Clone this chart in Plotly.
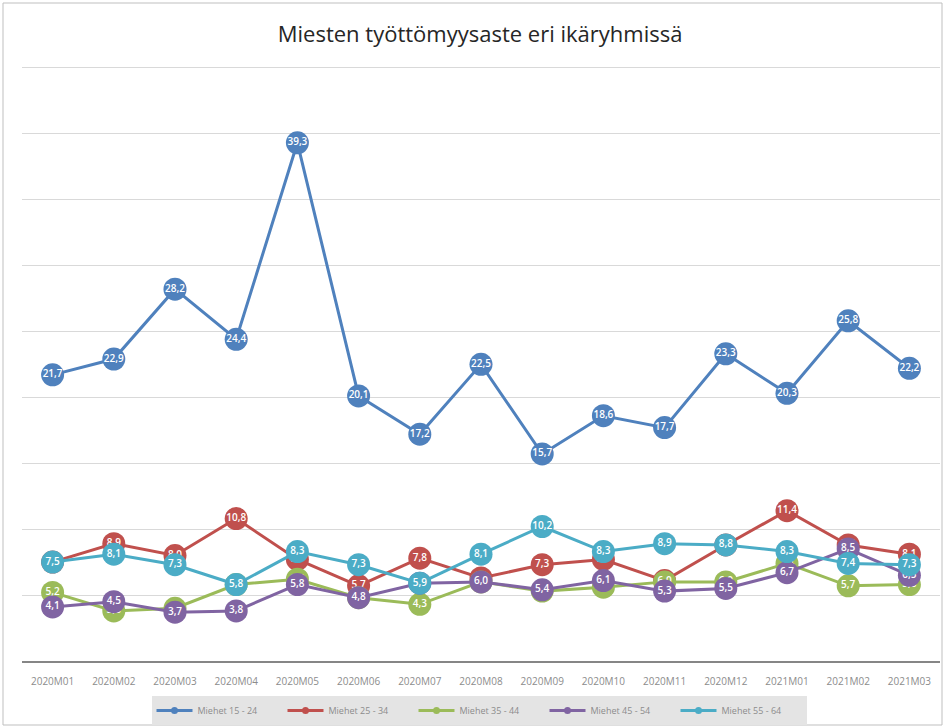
import plotly.graph_objects as go

months = ["2020M01", "2020M02", "2020M03", "2020M04", "2020M05", "2020M06", "2020M07",
          "2020M08", "2020M09", "2020M10", "2020M11", "2020M12", "2021M01", "2021M02", "2021M03"]

m15_24 = [21.7, 22.9, 28.2, 24.4, 39.3, 20.1, 17.2, 22.5, 15.7, 18.6, 17.7, 23.3, 20.3, 25.8, 22.2]
m25_34 = [7.5, 8.9, 8.0, 10.8, 7.7, 5.7, 7.8, 6.3, 7.3, 7.7, 6.1, 8.8, 11.4, 8.8, 8.1]
m35_44 = [5.2, 3.8, 4.0, 5.8, 6.2, 4.8, 4.3, 6.0, 5.3, 5.6, 6.0, 6.0, 7.4, 5.7, 5.8]
m45_54 = [4.1, 4.5, 3.7, 3.8, 5.8, 4.8, 5.9, 6.0, 5.4, 6.1, 5.3, 5.5, 6.7, 8.5, 6.5]
m55_64 = [7.5, 8.1, 7.3, 5.8, 8.3, 7.3, 5.9, 8.1, 10.2, 8.3, 8.9, 8.8, 8.3, 7.4, 7.3]

series = [
    ("Miehet 15 - 24", m15_24, "#4F81BD"),
    ("Miehet 25 - 34", m25_34, "#C0504D"),
    ("Miehet 35 - 44", m35_44, "#9BBB59"),
    ("Miehet 45 - 54", m45_54, "#8064A2"),
    ("Miehet 55 - 64", m55_64, "#4BACC6"),
]

fig = go.Figure()
for name, vals, col in series:
    fig.add_trace(go.Scatter(
        x=months, y=vals, name=name, mode="lines+markers", showlegend=False,
        line=dict(color=col, width=3),
        marker=dict(color=col, size=23),
    ))
    fig.add_trace(go.Scatter(
        x=months, y=vals, mode="text", showlegend=False, hoverinfo="skip",
        text=[f"{v:.1f}".replace(".", ",") for v in vals],
        textposition="middle center",
        textfont=dict(color="white", size=10, family="Open Sans", weight=600),
    ))
# legend entries (small markers like the reference legend)
for name, vals, col in series:
    fig.add_trace(go.Scatter(
        x=[months[0]], y=[None], name=name, mode="lines+markers",
        line=dict(color=col, width=3), marker=dict(color=col, size=7),
    ))

T, B = 65, 65
H = 726 - T - B
fig.update_layout(
    width=945, height=726,
    paper_bgcolor="white", plot_bgcolor="white",
    margin=dict(l=22, r=5, t=T, b=B, autoexpand=False),
    title=dict(text="Miesten työttömyysaste eri ikäryhmissä", x=0.508, xanchor="center",
               y=1 - 34 / 726, yanchor="middle",
               font=dict(family="Open Sans", size=22, color="#262626")),
    xaxis=dict(range=[-0.5, 14.5], showgrid=False, showline=True, linecolor="#868686",
               linewidth=1.5, ticks="", tickfont=dict(family="Open Sans", size=10, color="#8c8c8c"),
               ticklabelstandoff=10),
    yaxis=dict(range=[0, 45.2], dtick=5, showticklabels=False, gridcolor="#d9d9d9",
               gridwidth=1, zeroline=False),
    legend=dict(orientation="h", x=(479 - 22) / 918, xanchor="center", y=-35 / H, yanchor="top",
                bgcolor="#e4e4e4", font=dict(family="Open Sans", size=9, color="#8c8c8c"),
                itemwidth=36, entrywidth=80, tracegroupgap=0),
    showlegend=True,
    shapes=[dict(type="rect", xref="paper", yref="paper",
                 x0=(3 - 22) / 918, x1=(942 - 22) / 918,
                 y0=(661 - 725) / H, y1=(661 - 3) / H,
                 line=dict(color="#bfbfbf", width=1), fillcolor="rgba(0,0,0,0)", layer="below")],
)

fig.write_html("out.html", config={"displayModeBar": False},
               post_script="document.body.style.margin='0';document.body.style.overflow='hidden';")
